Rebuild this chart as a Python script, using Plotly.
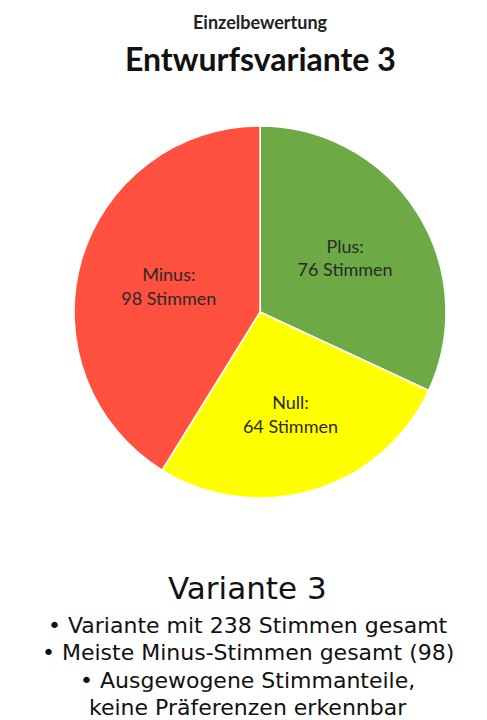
import plotly.graph_objects as go

labels = ["Plus", "Null", "Minus"]
stimmen = [76, 64, 98]
farben = ["#6DA945", "#FFFF00", "#FF5040"]

titel_klein = "Einzelbewertung"
titel_gross = "Entwurfsvariante 3"
fazit_titel = "Variante 3"
fazit_zeilen = [
    "• Variante mit 238 Stimmen gesamt",
    "• Meiste Minus-Stimmen gesamt (98)",
    "• Ausgewogene Stimmanteile,",
    "keine Präferenzen erkennbar",
]

# the page body has an 8px margin, so the figure is a bit smaller and
# all pixel positions below are given relative to the figure
W, H = 479, 712
cx, cy, r = 252, 304, 186

fig = go.Figure(go.Pie(
    labels=labels,
    values=stimmen,
    sort=False,
    direction="clockwise",
    rotation=0,
    marker=dict(colors=farben, line=dict(color="white", width=1.5)),
    texttemplate="%{label}:<br>%{value} Stimmen",
    textposition="inside",
    insidetextorientation="horizontal",
    textfont=dict(family="Lato", size=18, color="#2a2a2a"),
    hoverinfo="label+value",
    showlegend=False,
    domain=dict(x=[(cx - r) / W, (cx + r) / W],
                y=[(H - cy - r) / H, (H - cy + r) / H]),
))

fig.add_annotation(text=f"<b>{titel_klein}</b>", x=cx / W, y=1 - 14 / H,
                   font=dict(family="Lato", size=18, color="#222"))
fig.add_annotation(text=f"<b>{titel_gross}</b>", x=cx / W, y=1 - 50 / H,
                   font=dict(family="Lato", size=32, color="#111"))
fig.add_annotation(text=fazit_titel, x=0.5, y=1 - 580 / H,
                   font=dict(family="DejaVu Sans", size=31, color="#111"))
for i, zeile in enumerate(fazit_zeilen):
    fig.add_annotation(text=zeile, x=0.5, y=1 - (617 + i * 27.5) / H,
                       font=dict(family="DejaVu Sans", size=22, color="#111"))

fig.update_annotations(xref="paper", yref="paper", showarrow=False,
                       xanchor="center", yanchor="middle")

fig.update_layout(width=W, height=H, margin=dict(l=0, r=0, t=0, b=0),
                  paper_bgcolor="white", plot_bgcolor="white")

fig.write_html("out.html")
